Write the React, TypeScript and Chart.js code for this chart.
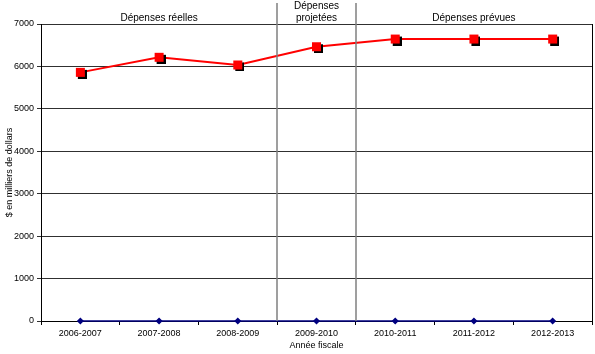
import React, { useEffect, useRef } from "react";
import { Chart, registerables } from "chart.js";

Chart.register(...registerables);

const categories = ["2006-2007", "2007-2008", "2008-2009", "2009-2010", "2010-2011", "2011-2012", "2012-2013"];
const depenses = [5860, 6215, 6035, 6465, 6645, 6645, 6645];
const baseline = [0, 0, 0, 0, 0, 0, 0];
const yTicks = [0, 1000, 2000, 3000, 4000, 5000, 6000, 7000];
const periodLabels = [
  { lines: ["Dépenses réelles"], from: 0, to: 2 },
  { lines: ["Dépenses", "projetées"], from: 3, to: 3 },
  { lines: ["Dépenses prévues"], from: 4, to: 6 },
];
const separatorsAfter = [2, 3];

const FONT = "'Liberation Sans', Arial, sans-serif";

function makeMarker(): HTMLCanvasElement {
  const c = document.createElement("canvas");
  c.width = 13;
  c.height = 13;
  const ctx = c.getContext("2d")!;
  ctx.fillStyle = "#000000";
  ctx.fillRect(4, 4, 9, 9);
  ctx.fillStyle = "#FF0000";
  ctx.fillRect(2, 2, 9, 9);
  return c;
}

const overlayPlugin = {
  id: "overlay",
  afterDraw(chart: any) {
    const { ctx, chartArea, scales } = chart;
    const x = scales.x;
    ctx.save();
    ctx.strokeStyle = "#000000";
    ctx.lineWidth = 1;
    ctx.beginPath();
    ctx.moveTo(chartArea.right + 0.5, chartArea.top);
    ctx.lineTo(chartArea.right + 0.5, chartArea.bottom);
    ctx.stroke();
    ctx.strokeStyle = "#7f7f7f";
    ctx.lineWidth = 1.5;
    separatorsAfter.forEach((i) => {
      const px = Math.round((x.getPixelForValue(i) + x.getPixelForValue(i + 1)) / 2);
      ctx.beginPath();
      ctx.moveTo(px, 3);
      ctx.lineTo(px, chartArea.bottom);
      ctx.stroke();
    });
    ctx.fillStyle = "#000000";
    ctx.font = `10px ${FONT}`;
    ctx.textAlign = "center";
    ctx.textBaseline = "middle";
    periodLabels.forEach((p) => {
      const cx = (x.getPixelForValue(p.from) + x.getPixelForValue(p.to)) / 2;
      const n = p.lines.length;
      p.lines.forEach((l, k) => {
        ctx.fillText(l, cx, 18 - (n - 1 - k) * 12);
      });
    });
    ctx.restore();
  },
};

export default function App() {
  const ref = useRef<HTMLCanvasElement | null>(null);
  useEffect(() => {
    document.body.style.margin = "0";
    const marker = makeMarker();
    const chart = new Chart(ref.current!, {
      type: "line",
      data: {
        labels: categories,
        datasets: [
          {
            label: "Dépenses",
            data: depenses,
            borderColor: "#FF0000",
            backgroundColor: "#FF0000",
            borderWidth: 2,
            pointStyle: marker as any,
            pointRadius: 5,
            tension: 0,
            clip: false as any,
          },
          {
            label: "Base",
            data: baseline,
            borderColor: "#000080",
            backgroundColor: "#000080",
            borderWidth: 1.5,
            pointStyle: "rectRot",
            pointRadius: 2.5,
            tension: 0,
            clip: false as any,
          },
        ],
      },
      options: {
        animation: false,
        responsive: false,
        maintainAspectRatio: false,
        layout: { autoPadding: false, padding: { top: 24, right: 3, left: 0, bottom: 0 } },
        plugins: { legend: { display: false }, tooltip: { enabled: false } },
        scales: {
          x: {
            type: "category",
            offset: true,
            grid: {
              offset: true,
              drawOnChartArea: false,
              drawTicks: true,
              tickLength: 4,
              color: "#000000",
            },
            border: { color: "#000000", width: 1 },
            ticks: { color: "#000000", font: { family: FONT, size: 9 }, padding: 3, maxRotation: 0 },
            title: {
              display: true,
              text: "Année fiscale",
              color: "#000000",
              font: { family: FONT, size: 9 },
              padding: { top: 4, bottom: 3 },
            },
            afterFit: (s: any) => {
              s.height = 33;
            },
          },
          y: {
            min: 0,
            max: 7000,
            afterBuildTicks: (s: any) => {
              s.ticks = yTicks.map((v) => ({ value: v }));
            },
            grid: { color: "#303030", lineWidth: 1, tickLength: 4 },
            border: { color: "#000000", width: 1 },
            ticks: {
              color: "#000000",
              font: { family: FONT, size: 9 },
              padding: 3,
              callback: (v: any) => String(v),
            },
            title: {
              display: true,
              text: "$ en milliers de dollars",
              color: "#000000",
              font: { family: FONT, size: 9 },
              padding: { top: 4, bottom: 0 },
            },
            afterFit: (s: any) => {
              s.width = 41;
            },
          },
        },
      },
      plugins: [overlayPlugin],
    });
    return () => chart.destroy();
  }, []);
  return (
    <div style={{ width: 595, height: 354 }}>
      <canvas ref={ref} width={595} height={354} style={{ display: "block" }} />
    </div>
  );
}
